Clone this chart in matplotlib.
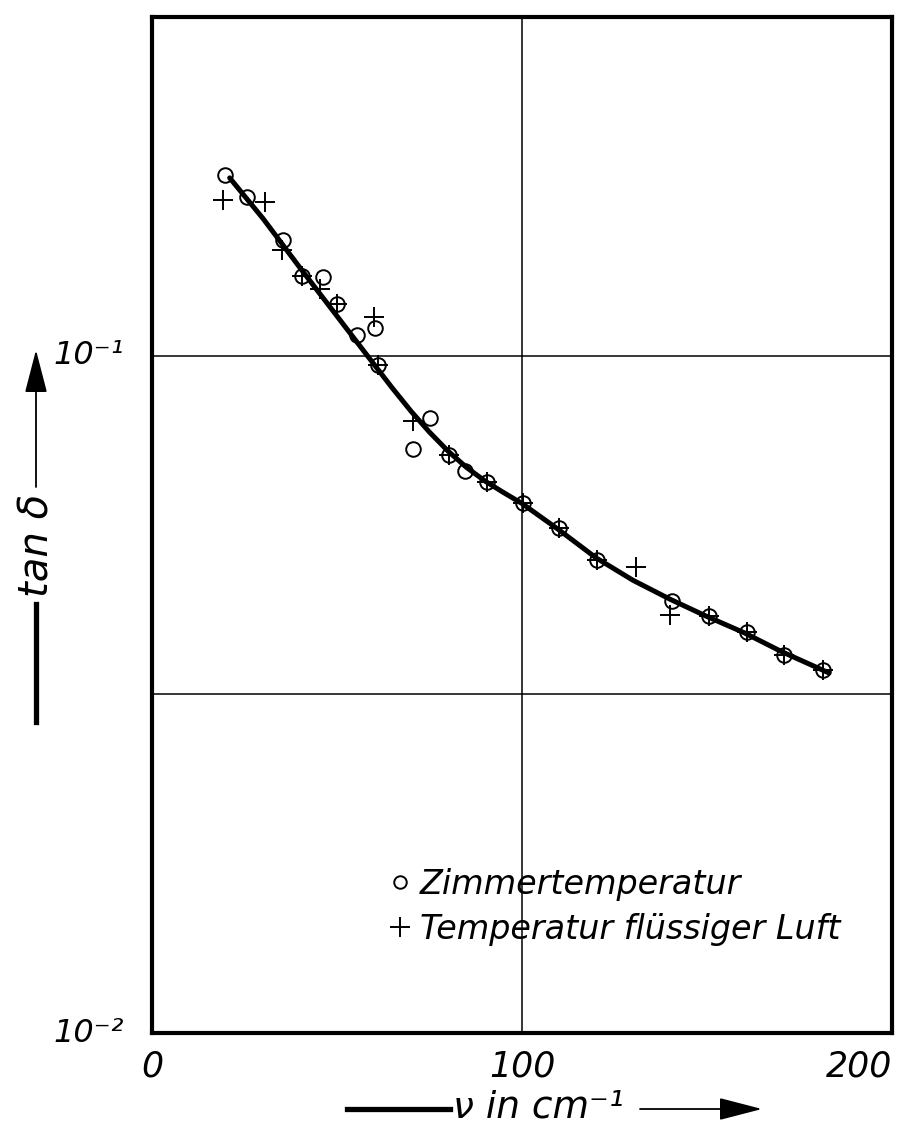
import matplotlib
matplotlib.use("Agg")
import matplotlib.pyplot as plt
from matplotlib.lines import Line2D

# ---------------- data ----------------
zimmer_x = [19.7, 25.6, 35.3, 40.6, 46.1, 50.1, 55.3, 60.3, 61.0, 70.5, 75.1, 80.4,
            84.6, 90.5, 100.2, 110.1, 120.4, 140.5, 150.5, 160.9, 170.8, 181.4]
zimmer_y = [0.185, 0.1716, 0.148, 0.131, 0.1307, 0.119, 0.1074, 0.1097, 0.097, 0.0729,
            0.0809, 0.0714, 0.0675, 0.0651, 0.0606, 0.0557, 0.0500, 0.0435, 0.0413,
            0.0391, 0.0361, 0.0343]

luft_x = [19.3, 30.5, 35.0, 40.6, 45.4, 50.1, 60.1, 61.0, 70.5, 80.4, 90.5, 100.2,
          110.1, 120.4, 130.8, 140.0, 150.5, 160.9, 170.8, 181.4]
luft_y = [0.170, 0.1686, 0.143, 0.131, 0.1256, 0.119, 0.1141, 0.097, 0.0801, 0.0714,
          0.0651, 0.0606, 0.0557, 0.0500, 0.0487, 0.0414, 0.0413, 0.0391, 0.0361, 0.0343]

curve_x = [21, 30, 40, 50, 60, 65, 70, 75, 80, 85, 90, 95, 100, 110, 120, 130, 140,
           150, 160, 170, 183]
curve_y = [0.183, 0.1594, 0.1348, 0.1144, 0.0971, 0.0895, 0.0828, 0.0771, 0.0723,
           0.0684, 0.0653, 0.0628, 0.0605, 0.0553, 0.0503, 0.0466, 0.0437, 0.0412,
           0.0390, 0.0366, 0.0340]

x_ticks = [0, 100, 200]
x_ticklabels = ["0", "100", "200"]
y_ticks = [1e-2, 1e-1]
y_ticklabels = ["10\u207b\u00b2", "10\u207b\u00b9"]
grid_y = [10 ** -1.5, 1e-1]
grid_x = [100]

label_zimmer = "Zimmertemperatur"
label_luft = "Temperatur flüssiger Luft"

# ---------------- figure ----------------
W, H = 904, 1128
DPI = 100
fig = plt.figure(figsize=(W / DPI, H / DPI), dpi=DPI)
fig.patch.set_facecolor("white")

def fx(px):
    return px / W

def fy(py):
    return 1 - py / H

ax_l, ax_r, ax_t, ax_b = 152, 892, 17, 1033
ax = fig.add_axes([fx(ax_l), fy(ax_b), (ax_r - ax_l) / W, (ax_b - ax_t) / H])

FONT = dict(family="DejaVu Sans", style="oblique")

ax.set_yscale("log")
ax.set_xlim(0, 200)
ax.set_ylim(1e-2, 10 ** -0.5)

for s in ax.spines.values():
    s.set_linewidth(3.0)
    s.set_color("black")

for gy in grid_y:
    ax.axhline(gy, color="black", lw=1.1, zorder=1)
for gx in grid_x:
    ax.axvline(gx, color="black", lw=1.1, zorder=1)

ax.plot(curve_x, curve_y, color="black", lw=3.6, solid_capstyle="round",
        solid_joinstyle="round", zorder=2)

h1, = ax.plot(zimmer_x, zimmer_y, linestyle="none", marker="o", markersize=10.5,
              markerfacecolor="none", markeredgecolor="black", markeredgewidth=1.4,
              zorder=3, label=label_zimmer)
h2, = ax.plot(luft_x, luft_y, linestyle="none", marker="+", markersize=14,
              markeredgecolor="black", markeredgewidth=1.4, zorder=3, label=label_luft)

ax.minorticks_off()
ax.set_xticks(x_ticks)
ax.set_xticklabels(x_ticklabels)
ax.set_yticks(y_ticks)
ax.set_yticklabels(y_ticklabels)
ax.tick_params(length=0)
ax.tick_params(axis="x", pad=12)
ax.tick_params(axis="y", pad=20)
for t in ax.get_xticklabels() + ax.get_yticklabels():
    t.set_fontfamily(FONT["family"])
    t.set_fontstyle(FONT["style"])
    t.set_fontsize(25)
for t in ax.get_yticklabels():
    t.set_fontsize(23)
xl = ax.get_xticklabels()
xl[-1].set_horizontalalignment("right")
for t in ax.get_yticklabels():
    t.set_verticalalignment("center")

leg = ax.legend(handles=[h1, h2], loc="upper left",
                bbox_to_anchor=((390 - ax_l) / (ax_r - ax_l), (ax_b - 868) / (ax_b - ax_t)),
                frameon=False, handlelength=0.6, handletextpad=0.3, labelspacing=0.36,
                borderpad=0, borderaxespad=0,
                prop=dict(family=FONT["family"], style=FONT["style"], size=24))
leg.legend_handles[0].set_markersize(9)
leg.legend_handles[1].set_markersize(14)

ARROW = "-|>,head_length=2.7,head_width=0.7"

# ---------------- x axis label with arrow ----------------
fig.add_artist(Line2D([fx(347), fx(450)], [fy(1109), fy(1109)], color="black", lw=3.8,
                      transform=fig.transFigure))
fig.text(fx(453), fy(1107), "\u03bd in cm\u207b\u00b9", ha="left", va="center",
         fontsize=27, **FONT)
ax.annotate("", xy=(fx(762), fy(1109)), xycoords="figure fraction",
            xytext=(fx(640), fy(1109)), textcoords="figure fraction",
            arrowprops=dict(arrowstyle=ARROW, color="black", lw=1.3,
                            shrinkA=0, shrinkB=0))

# ---------------- y axis label with arrow ----------------
fig.add_artist(Line2D([fx(36), fx(36)], [fy(722), fy(604)], color="black", lw=3.8,
                      transform=fig.transFigure))
fig.text(fx(37), fy(545), "tan \u03b4", ha="center", va="center", rotation=90,
         fontsize=29, **FONT)
ax.annotate("", xy=(fx(36), fy(350)), xycoords="figure fraction",
            xytext=(fx(36), fy(487)), textcoords="figure fraction",
            arrowprops=dict(arrowstyle=ARROW, color="black", lw=1.3,
                            shrinkA=0, shrinkB=0))

fig.savefig("out.png", dpi=DPI, facecolor="white")
